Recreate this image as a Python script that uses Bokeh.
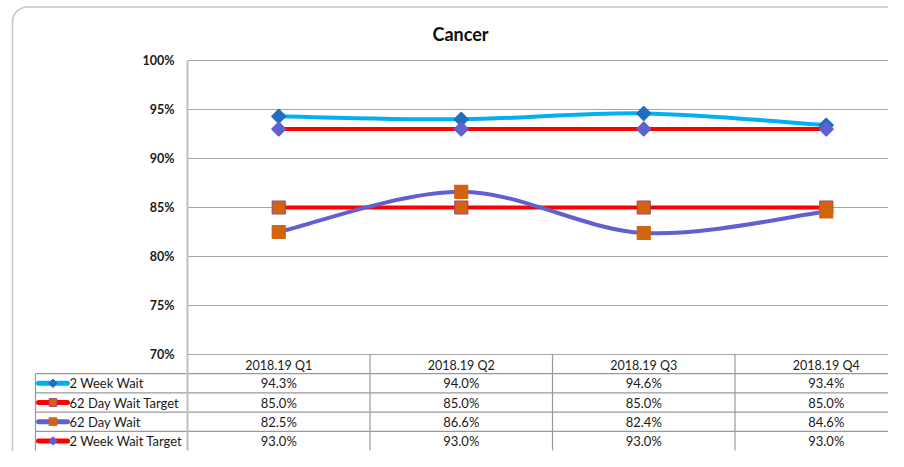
import numpy as np
from bokeh.plotting import figure
from bokeh.models import (Range1d, LinearAxis, FixedTicker, PrintfTickFormatter,
                          Grid, BoxAnnotation)
from bokeh.core.properties import value
from bokeh.embed import file_html
from bokeh.resources import INLINE

# ---------------- data ----------------
title_text = "Cancer"
categories = ["2018.19 Q1", "2018.19 Q2", "2018.19 Q3", "2018.19 Q4"]
series_names = ["2 Week Wait", "62 Day Wait Target", "62 Day Wait", "2 Week Wait Target"]
two_week_wait = [94.3, 94.0, 94.6, 93.4]
day62_target = [85.0, 85.0, 85.0, 85.0]
day62_wait = [82.5, 86.6, 82.4, 84.6]
two_week_target = [93.0, 93.0, 93.0, 93.0]
y_ticks = [70, 75, 80, 85, 90, 95, 100]

# ---------------- layout helpers (canvas pixels -> data) ----------------
W, H = 888, 451
PLOT_L = 187                     # left of plot area (px)
CAT_W = 182.5                    # px per category
Y_TOP_PX, Y_BOT_PX = 60, 354     # 100% and 70%
PX_PER_PCT = (Y_BOT_PX - Y_TOP_PX) / 30.0
ROW_H = 19.2


def px(x):
    return -0.5 + (x - PLOT_L) / CAT_W


def py(y):
    return 100 - (y - Y_TOP_PX) / PX_PER_PCT


def tv(y):
    return (y - Y_BOT_PX) / ROW_H


FONT_NAME = "Lato"
FONT = value(FONT_NAME)

p = figure(width=W, height=H, x_range=Range1d(px(0), px(W)),
           y_range=Range1d(py(H), py(0)),
           x_axis_type=None, y_axis_type=None,
           toolbar_location=None, output_backend="svg",
           min_border=0, outline_line_color=None)
p.extra_y_ranges = {"tbl": Range1d(start=tv(H), end=tv(0))}

# outer rounded border
p.add_layout(BoxAnnotation(left=px(12), right=px(1000), top=py(6.5), bottom=py(600),
                           fill_color=None, line_color="#404040", line_width=1.5,
                           border_radius=15, level="underlay"))

# grid lines
grid = Grid(dimension=1, ticker=FixedTicker(ticks=y_ticks),
            cross_bounds=(-0.5, px(W)),
            grid_line_color="#A6A6A6", grid_line_width=1)
p.add_layout(grid, "center")

# y axis
yaxis = LinearAxis(fixed_location=-0.5, ticker=FixedTicker(ticks=y_ticks),
                   formatter=PrintfTickFormatter(format="%d%%"),
                   bounds=(70, 100), axis_line_color="#BFBFBF", axis_line_width=2,
                   major_tick_in=0, major_tick_out=0, minor_tick_line_color=None,
                   major_label_standoff=13,
                   major_label_text_font=FONT_NAME, major_label_text_font_size="12.5px",
                   major_label_text_font_style="bold", major_label_text_color="#1a1a1a")
p.add_layout(yaxis, "left")

# x axis (category header row of the data table)
xaxis = LinearAxis(fixed_location=70, ticker=FixedTicker(ticks=list(range(len(categories)))),
                   major_label_overrides={i: c for i, c in enumerate(categories)},
                   axis_line_color=None, major_tick_line_color=None,
                   major_tick_in=0, major_tick_out=0,
                   minor_tick_line_color=None, minor_tick_in=0, minor_tick_out=0,
                   major_label_standoff=3,
                   major_label_text_font=FONT_NAME, major_label_text_font_size="12.5px",
                   major_label_text_color="#1a1a1a")
p.add_layout(xaxis, "below")

# ---------------- data table grid ----------------
TBL = "#999999"
nrows = len(series_names)
p.segment(x0=[px(35)] * nrows, x1=[px(W)] * nrows,
          y0=[r + 1 for r in range(nrows)], y1=[r + 1 for r in range(nrows)],
          y_range_name="tbl", line_color=TBL, line_width=1.2)
p.segment(x0=[px(35)], x1=[px(35)], y0=[1], y1=[nrows + 1],
          y_range_name="tbl", line_color=TBL, line_width=1.2)
p.segment(x0=[-0.5], x1=[-0.5], y0=[0], y1=[nrows + 1],
          y_range_name="tbl", line_color="#BFBFBF", line_width=2)
bounds_x = [i + 0.5 for i in range(len(categories) - 1)]
p.segment(x0=bounds_x, x1=bounds_x, y0=[0] * len(bounds_x), y1=[nrows + 1] * len(bounds_x),
          y_range_name="tbl", line_color=TBL, line_width=1.2)

# ---------------- series ----------------
BLUE_L = "#00B0F0"
BLUE_M = "#1F6FC0"
RED = "#FF0000"
SLATE = "#6060D0"
ORANGE = "#D2640F"
PURPLE = "#A0457F"

styles = [
    dict(line=BLUE_L, marker="square", angle=np.pi / 4, size=10, fill=BLUE_M, outline=BLUE_M),
    dict(line=RED, marker="square", angle=0, size=13, fill=ORANGE, outline=PURPLE),
    dict(line=SLATE, marker="square", angle=0, size=13, fill=ORANGE, outline=ORANGE),
    dict(line=RED, marker="square", angle=np.pi / 4, size=10, fill=SLATE, outline=SLATE),
]
series_values = [two_week_wait, day62_target, day62_wait, two_week_target]


def bezier_parts(xs, ys):
    pts = np.column_stack([xs, ys]).astype(float)
    n = len(pts)
    out = {k: [] for k in ["x0", "y0", "x1", "y1", "cx0", "cy0", "cx1", "cy1"]}
    for i in range(n - 1):
        p0 = pts[max(i - 1, 0)]
        p1 = pts[i]
        p2 = pts[i + 1]
        p3 = pts[min(i + 2, n - 1)]
        c1 = p1 + (p2 - p0) / 6.0
        c2 = p2 - (p3 - p1) / 6.0
        out["x0"].append(p1[0]); out["y0"].append(p1[1])
        out["x1"].append(p2[0]); out["y1"].append(p2[1])
        out["cx0"].append(c1[0]); out["cy0"].append(c1[1])
        out["cx1"].append(c2[0]); out["cy1"].append(c2[1])
    return out


xs = list(range(len(categories)))
for vals, st in zip(series_values, styles):
    b = bezier_parts(xs, vals)
    p.bezier(line_color=st["line"], line_width=4, line_cap="round", **b)
    p.scatter(xs, vals, marker=st["marker"], angle=st["angle"], size=st["size"],
              fill_color=st["fill"], line_color=st["outline"], line_width=1.2)

# ---------------- table contents ----------------
for r, (name, vals, st) in enumerate(zip(series_names, series_values, styles)):
    yc = r + 1.5
    p.segment(x0=[px(38)], x1=[px(67)], y0=[yc], y1=[yc], y_range_name="tbl",
              line_color=st["line"], line_width=5, line_cap="round")
    p.scatter([px(52.5)], [yc], y_range_name="tbl", marker=st["marker"], angle=st["angle"],
              size=st["size"] * 0.6, fill_color=st["fill"], line_color=st["outline"],
              line_width=1)
    p.text([px(69)], [yc], text=[name], y_range_name="tbl",
           text_font=FONT, text_font_size="13px", text_color="#1a1a1a",
           text_align="left", text_baseline="middle")
    p.text(xs, [yc] * len(xs), text=[f"{v:.1f}%" for v in vals], y_range_name="tbl",
           text_font=FONT, text_font_size="13px", text_color="#1a1a1a",
           text_align="center", text_baseline="middle")

# title
p.text([px(460)], [py(33)], text=[title_text], text_font=FONT, text_font_size="18px",
       text_font_style="bold", text_color="#0d0d0d", text_align="center",
       text_baseline="middle")

open("out.html", "w").write(file_html(p, INLINE))
